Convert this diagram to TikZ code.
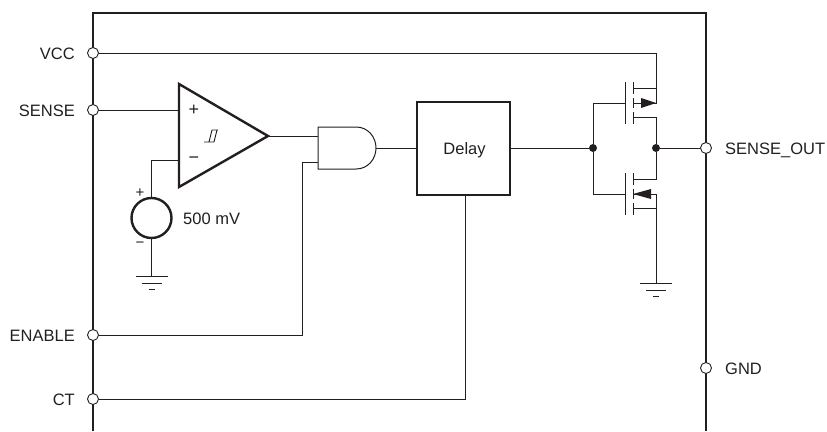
\documentclass[tikz,border=0pt]{standalone}
\usepackage{fontspec}
\setmainfont{Liberation Sans}
\definecolor{ink}{HTML}{231F20}
\begin{document}
\begin{tikzpicture}[x=1pt,y=-1pt,
  wire/.style={draw=ink,line width=1pt},
  heavy/.style={draw=ink,line width=2.4pt},
  pin/.style={circle,draw=ink,fill=white,line width=0.9pt,minimum size=11pt,inner sep=0pt},
  dotnode/.style={circle,fill=ink,minimum size=8pt,inner sep=0pt},
  lbl/.style={font=\fontsize{16.5}{18}\selectfont,text=ink,inner sep=0pt},
  sign/.style={font=\fontsize{18}{20}\selectfont,text=ink,inner sep=0pt},
  smallsign/.style={font=\fontsize{15}{16}\selectfont,text=ink,inner sep=0pt}]
\useasboundingbox (0,0) rectangle (827,431);
% package outline
\draw[heavy] (93,431) -- (93,13) -- (706,13) -- (706,431);
% pins
\node[pin] (vcc) at (93,53) {};
\node[pin] (sense) at (93,110) {};
\node[pin] (enable) at (93,335) {};
\node[pin] (ct) at (93,399) {};
\node[pin] (out) at (706,148) {};
\node[pin] (gnd) at (706,368) {};
\node[lbl,anchor=base east] at (75,59) {VCC};
\node[lbl,anchor=base east] at (75,116) {SENSE};
\node[lbl,anchor=base east] at (75,341) {ENABLE};
\node[lbl,anchor=base east] at (75,405) {CT};
\node[lbl,anchor=base west] at (725,154) {SENSE\_OUT};
\node[lbl,anchor=base west] at (725,374) {GND};
% comparator
\coordinate (cmpT) at (179,84);
\coordinate (cmpB) at (179,187);
\coordinate (cmpO) at (268,136);
\draw[heavy,line join=miter] (cmpT) -- (cmpO) -- (cmpB) -- cycle;
\coordinate (cmpP) at (179,110);
\coordinate (cmpN) at (179,160);
\node[sign] at (194,110) {+};
\node[sign] at (194,160) {−};
\draw[ink,line width=0.9pt] (204,142) -- (214,142) (209,142) -- (212,130) (214,142) -- (217,130) (212,130) -- (218,130);
% reference source
\node[circle,draw=ink,line width=2.4pt,minimum size=40pt,inner sep=0pt] (src) at (151.5,218) {};
\node[smallsign] at (140,193) {+};
\node[smallsign] at (140,245) {−};
\node[lbl,anchor=base west] at (183,224) {500 mV};
\coordinate (gndA) at (151.5,276);
\draw[wire] (gndA) ++(-16,0) -- ++(32,0) (gndA) ++(-10,7) -- ++(20,0) (gndA) ++(-3,13) -- ++(6,0);
\draw[wire] (sense) -- (cmpP);
\draw[wire] (cmpN) -| (src.north);
\draw[wire] (src.south) -- (gndA);
% AND gate
\coordinate (andA) at (318,136);
\coordinate (andB) at (318,162);
\coordinate (andO) at (376,148);
\draw[wire] (318,127) -- (356,127) .. controls (368,127) and (376,137) .. (andO) .. controls (376,159) and (368,169) .. (356,169) -- (318,169) -- cycle;
\draw[wire] (cmpO) -- (andA);
\draw[wire] (enable) -| (302,162) -- (andB);
% delay
\node[draw=ink,line width=2.4pt,minimum width=93pt,minimum height=93pt,inner sep=0pt] (delay) at (463.5,148.5) {};
\node[lbl,anchor=base] at (delay.center) [xshift=1pt,yshift=-6pt] {Delay};
\draw[wire] (andO) -- (delay.west |- andO);
\draw[wire] (ct) -| (delay.south -| 465,195);
% FETs
\node[dotnode] (dg) at (593,148) {};
\node[dotnode] (dd) at (656,148) {};
\draw[wire] (delay.east |- dg) -- (dg);
\draw[wire] (dd) -- (out);
\draw[wire] (vcc) -| (656,88) -- (633,88);
% PMOS
\draw[wire] (625,82) -- (625,124);
\draw[wire] (633,82) -- (633,94) (633,98) -- (633,108) (633,112) -- (633,124);
\draw[wire] (dg) |- (625,103);
\draw[wire] (656,88) -- (656,103) -- (633,103);
\fill[ink] (656,103) -- (641,98) -- (641,108) -- cycle;
\draw[wire] (633,117) -- (656,117) -- (dd);
% NMOS
\draw[wire] (625,173) -- (625,215);
\draw[wire] (633,173) -- (633,185) (633,189) -- (633,199) (633,203) -- (633,215);
\draw[wire] (dg) |- (625,194);
\draw[wire] (dd) -- (656,179) -- (633,179);
\draw[wire] (633,194) -- (656,194);
\fill[ink] (633,194) -- (651,189) -- (651,199) -- cycle;
\draw[wire] (633,208) -- (656,208);
\coordinate (gndB) at (656,283);
\draw[wire] (656,194) -- (gndB);
\draw[wire] (gndB) ++(-16,0) -- ++(32,0) (gndB) ++(-10,7) -- ++(20,0) (gndB) ++(-3,13) -- ++(6,0);
\end{tikzpicture}
\end{document}
